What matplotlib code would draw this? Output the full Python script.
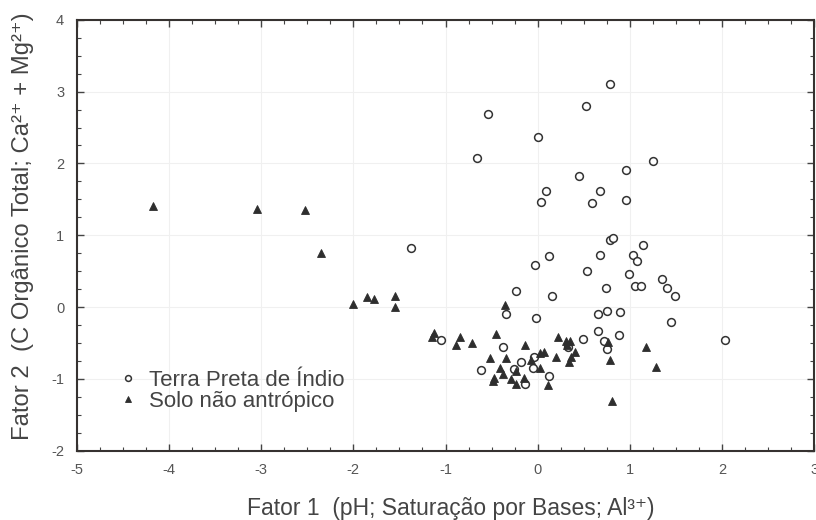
import matplotlib
matplotlib.use("Agg")
import matplotlib.pyplot as plt
from matplotlib.ticker import MultipleLocator, FixedLocator

plt.rcParams['font.family'] = ['Liberation Sans', 'DejaVu Sans']
plt.rcParams['axes.unicode_minus'] = False

# Terra Preta de Índio (open circles)
tpi_x = [0.78, 0.52, -0.54, 0.00, -0.66, 1.25, 0.96, 0.45, 0.09, 0.68, 0.04, 0.59, 0.96,
         0.78, 0.82, 1.14, -1.37, 0.12, 0.68, 1.03, 1.08, -0.03, 0.53, 0.99, -0.24, 0.74,
         1.05, 1.12, 1.35, 1.40, 1.49, 0.15, -0.34, -0.02, 0.65, 0.75, 0.89, 1.45, 0.65,
         0.88, 0.49, -1.05, 2.03, 0.72, 0.75, -0.38, -0.04, -0.62, -0.05, 0.12, -0.14,
         -0.18, 0.33, -0.26]
tpi_y = [3.10, 2.80, 2.69, 2.37, 2.08, 2.03, 1.91, 1.82, 1.61, 1.61, 1.47, 1.45, 1.49,
         0.94, 0.96, 0.86, 0.82, 0.71, 0.72, 0.72, 0.64, 0.58, 0.51, 0.46, 0.23, 0.26,
         0.30, 0.30, 0.39, 0.27, 0.16, 0.16, -0.10, -0.15, -0.10, -0.06, -0.07, -0.20, -0.33,
         -0.39, -0.44, -0.46, -0.46, -0.47, -0.58, -0.55, -0.69, -0.88, -0.85, -0.96, -1.07,
         -0.77, -0.55, -0.86]

# Solo não antrópico (filled triangles)
sna_x = [-4.17, -3.05, -2.52, -2.35, -2.00, -1.85, -1.78, -1.55, -1.55, -0.36, -1.13,
         -1.15, -0.84, -0.89, -0.71, -0.45, -0.14, 0.22, 0.31, 0.35, 0.32, 0.76, 0.78,
         1.17, 1.28, 0.81, 0.11, -0.52, -0.34, 0.02, 0.07, 0.20, 0.40, 0.36, 0.34, 0.02,
         -0.07, -0.41, -0.24, -0.47, -0.38, -0.29, -0.24, -0.15, -0.49]
sna_y = [1.41, 1.36, 1.35, 0.76, 0.05, 0.14, 0.11, 0.15, 0.00, 0.03, -0.36,
         -0.42, -0.42, -0.53, -0.50, -0.37, -0.53, -0.41, -0.47, -0.47, -0.53, -0.49, -0.73,
         -0.55, -0.84, -1.30, -1.09, -0.71, -0.71, -0.64, -0.62, -0.69, -0.62, -0.70, -0.77, -0.85,
         -0.74, -0.85, -0.89, -0.99, -0.93, -1.00, -1.07, -0.98, -1.03]

x_ticks = [-5, -4, -3, -2, -1, 0, 1, 2, 3]
y_ticks = [-2, -1, 0, 1, 2, 3, 4]

label_tpi = "Terra Preta de Índio"
label_sna = "Solo não antrópico"
xlabel = "Fator 1  (pH; Saturação por Bases; Al³⁺)"
ylabel = "Fator 2  (C Orgânico Total; Ca²⁺ + Mg²⁺)"

fig = plt.figure(figsize=(8.16, 5.20), dpi=100)
ax = fig.add_axes([0.094, 0.133, 0.904, 0.829])

ax.plot(tpi_x, tpi_y, linestyle='none', marker='o', markersize=5.6,
        markerfacecolor='white', markeredgecolor='#333333', markeredgewidth=1.1,
        label=label_tpi, zorder=3)
ax.plot(sna_x, sna_y, linestyle='none', marker='^', markersize=6,
        markerfacecolor='#2e2e2e', markeredgecolor='#2e2e2e', markeredgewidth=0.6,
        label=label_sna, zorder=4)

ax.set_xlim(-5, 3)
ax.set_ylim(-2, 4)
ax.xaxis.set_major_locator(FixedLocator(x_ticks))
ax.yaxis.set_major_locator(FixedLocator(y_ticks))
ax.xaxis.set_minor_locator(MultipleLocator(0.25))
ax.yaxis.set_minor_locator(MultipleLocator(0.25))
ax.set_xticklabels([str(t) for t in x_ticks])
ax.set_yticklabels([str(t) for t in y_ticks])

ax.tick_params(which='both', direction='in', top=True, right=True, colors='#444444',
               labelcolor='#555555', labelsize=10.5)
ax.tick_params(which='major', length=5, width=1)
ax.tick_params(which='minor', length=3, width=0.8)
ax.tick_params(axis='x', pad=9)
ax.tick_params(axis='y', pad=9)

for s in ax.spines.values():
    s.set_color('#363230')
    s.set_linewidth(1.5)

ax.grid(True, which='major', color='#f0f0f0', linewidth=0.8, zorder=0)
ax.set_axisbelow(True)

ax.set_xlabel(xlabel, fontsize=16.5, color='#444444')
ax.xaxis.set_label_coords(0.507, -0.108)
ax.set_ylabel(ylabel, fontsize=17.2, color='#444444')
ax.yaxis.set_label_coords(-0.058, 0.52)

leg = ax.legend(loc='center left', bbox_to_anchor=(0.054, 0.139), frameon=False,
                fontsize=16, markerscale=0.75, handlelength=1.0, handletextpad=0.45,
                labelspacing=0.0, borderaxespad=0, borderpad=0)
for t in leg.get_texts():
    t.set_color('#444444')

fig.savefig("out.png", dpi=100)
